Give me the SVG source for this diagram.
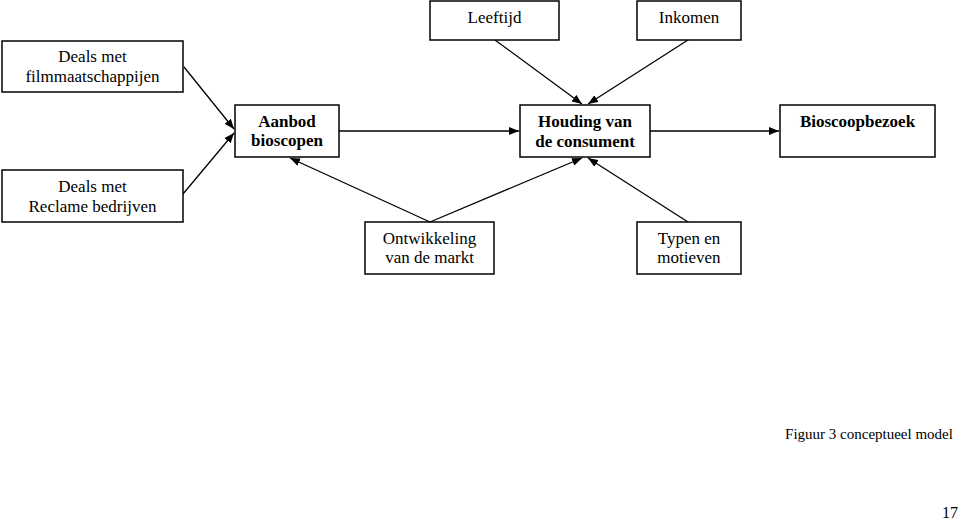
<svg xmlns="http://www.w3.org/2000/svg" width="960" height="523" viewBox="0 0 960 523">
<style>
.box{fill:#fff;stroke:#000;stroke-width:1.5}
text{font-family:"Liberation Serif","Times New Roman",serif;font-size:17px;fill:#000;text-anchor:middle}
.b{font-weight:bold}
.c{stroke:#000;stroke-width:1.3;fill:none;marker-end:url(#ah)}
</style>
<defs>
<marker id="ah" viewBox="0 0 10 8" refX="10" refY="4" markerWidth="10" markerHeight="8" markerUnits="userSpaceOnUse" orient="auto">
<path d="M0,0 L10,4 L0,8 z" fill="#000"/>
</marker>
</defs>
<rect width="960" height="523" fill="#fff"/>
<g id="connectors">
<line class="c" x1="184" y1="67" x2="234" y2="129"/>
<line class="c" x1="183" y1="194" x2="234" y2="133"/>
<line class="c" x1="339" y1="131" x2="519" y2="131"/>
<line class="c" x1="650" y1="131" x2="779" y2="131"/>
<line class="c" x1="495" y1="40" x2="582" y2="104"/>
<line class="c" x1="688" y1="40" x2="588" y2="104"/>
<line class="c" x1="430" y1="222" x2="290" y2="158"/>
<line class="c" x1="430" y1="222" x2="582" y2="158"/>
<line class="c" x1="688" y1="222" x2="588" y2="158"/>
</g>
<g id="deals-film"><rect class="box" x="2" y="41" width="181" height="51"/><text x="92.5" y="62">Deals met</text><text x="92.5" y="82">filmmaatschappijen</text></g>
<g id="deals-reclame"><rect class="box" x="2" y="170" width="181" height="52"/><text x="92.5" y="192">Deals met</text><text x="92.5" y="212">Reclame bedrijven</text></g>
<g id="aanbod"><rect class="box" x="235" y="105" width="104" height="52"/><text class="b" x="287" y="127">Aanbod</text><text class="b" x="287" y="146">bioscopen</text></g>
<g id="leeftijd"><rect class="box" x="430" y="1" width="129" height="39"/><text x="494.5" y="23">Leeftijd</text></g>
<g id="inkomen"><rect class="box" x="637" y="1" width="104" height="39"/><text x="689" y="23">Inkomen</text></g>
<g id="houding"><rect class="box" x="520" y="105" width="130" height="52"/><text class="b" x="585" y="127">Houding van</text><text class="b" x="585" y="147">de consument</text></g>
<g id="bioscoopbezoek"><rect class="box" x="780" y="105" width="155" height="52"/><text class="b" x="857.5" y="127">Bioscoopbezoek</text></g>
<g id="ontwikkeling"><rect class="box" x="365" y="222" width="129" height="52"/><text x="429.5" y="244">Ontwikkeling</text><text x="429.5" y="263">van de markt</text></g>
<g id="typen"><rect class="box" x="637" y="222" width="104" height="52"/><text x="689" y="244">Typen en</text><text x="689" y="263">motieven</text></g>
<text x="869" y="439" style="font-size:15px">Figuur 3 conceptueel model</text>
<text x="958" y="518" style="font-size:16px;text-anchor:end">17</text>
</svg>
